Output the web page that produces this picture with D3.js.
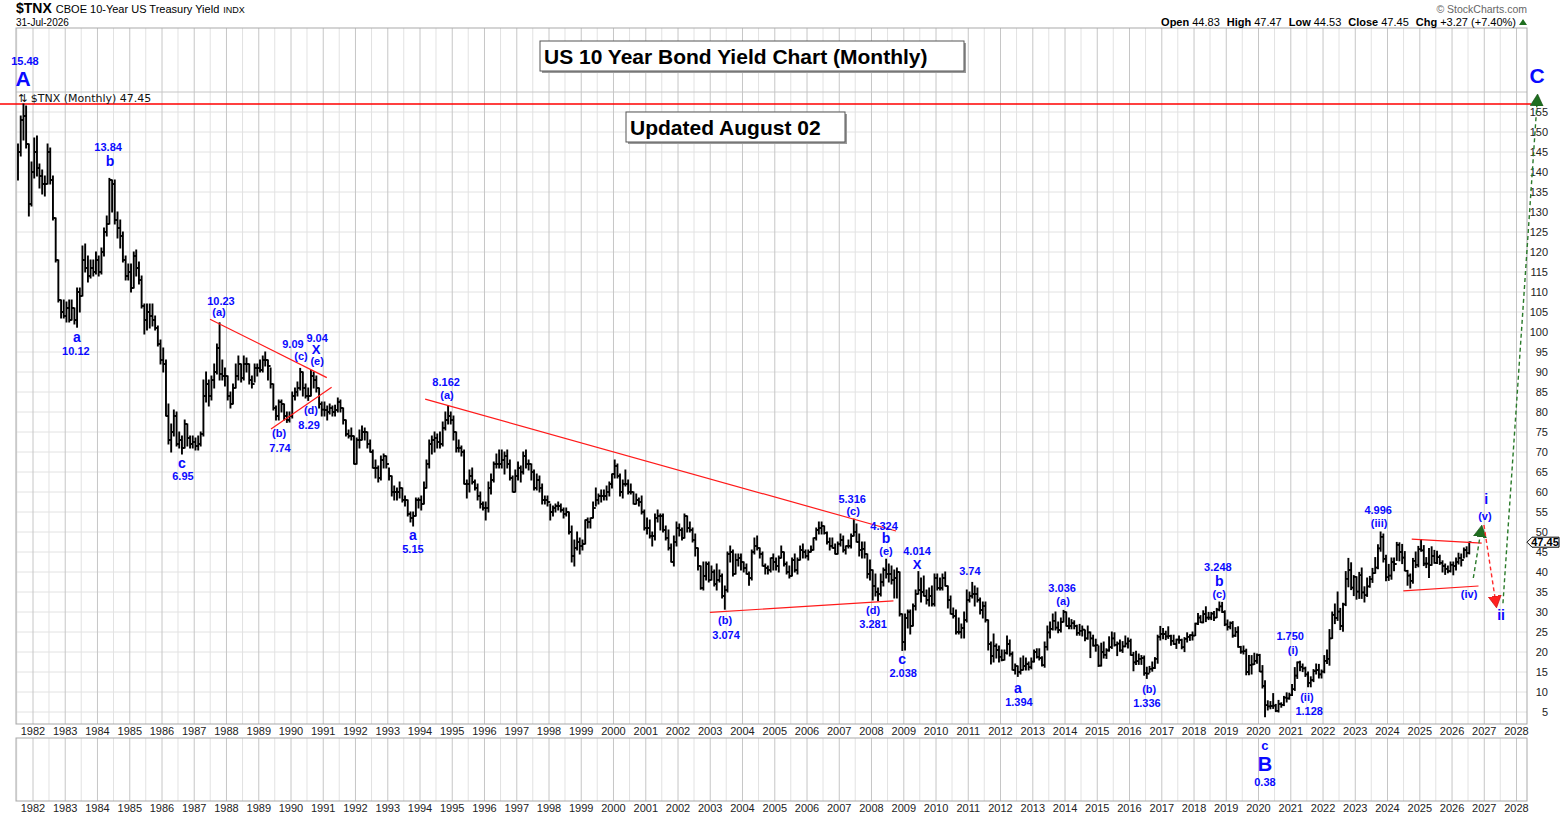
<!DOCTYPE html>
<html>
<head>
<meta charset="utf-8">
<script src="https://cdn.jsdelivr.net/npm/d3@7"></script>
<style>
  body { margin: 0; background: #fff; }
  svg { display: block; font-family: "Liberation Sans", Arial, sans-serif; }
</style>
</head>
<body>
<script>
// monthly bars of $TNX (yield x10), first bar = July 1981
const firstYear = 1981, firstMonth = 6;

const high = [
  147, 154, 157, 156.5, 147, 142.5,
  148.5, 149, 142, 140.5, 139, 147, 146, 139, 128.5, 118, 108, 108,
  107.5, 108, 108, 106, 111, 111, 121.5, 122, 119, 118, 118, 120,
  119, 121, 126, 129, 138.4, 138, 138, 130, 128, 125, 119, 117,
  117, 120, 120.5, 117.5, 114, 107, 107, 107, 107, 104, 101.5, 98,
  96, 93, 82, 77, 80.5, 80, 75, 74, 78, 77, 74, 74,
  73.5, 74, 75, 88, 90, 88, 89, 92, 97, 102.3, 93, 91,
  89, 85, 87, 92, 94, 92, 94, 93.5, 92, 89, 92, 92,
  93, 94, 95, 93, 91, 87, 81.5, 83, 83, 82, 80, 80,
  85, 86, 87.5, 90.9, 90, 87, 86, 90.4, 90, 89, 86, 82.5,
  82.5, 81.5, 82, 81.5, 81.7, 83.5, 83, 81, 78, 75.5, 76, 74,
  73.5, 75.5, 76.5, 76, 75, 73, 70.5, 68, 66.5, 69, 69.5, 69,
  66, 64, 61.5, 61, 62.5, 61, 59, 58, 55, 55, 58.5, 58.5,
  59, 62.5, 68, 73, 74, 75, 74.5, 75, 77.5, 80, 81.6, 80,
  79, 75, 73, 71.5, 70.5, 63, 65.5, 66, 63, 62, 60, 57.5,
  57.5, 62.5, 64.5, 67.5, 69.5, 70.5, 70.5, 70, 70.5, 68, 64, 65.5,
  67.5, 66.5, 70, 70.5, 68, 67, 65.5, 64.5, 64, 62, 59, 59,
  57, 56.5, 57, 57.5, 57, 56, 56, 55, 51.5, 48, 50, 48.5,
  48, 53, 53.5, 53.5, 57.5, 61, 59.5, 60.5, 60.5, 61.5, 62.5, 64.5,
  68, 67, 64.5, 63, 65.5, 63, 62, 60, 59.5, 58.5, 59, 55.5,
  53.5, 53, 50, 54.5, 55.5, 54.5, 54.5, 51.5, 50.5, 47, 49, 52.5,
  52, 51, 54.5, 54, 52.5, 51, 49.5, 46, 41.5, 42.5, 42.5, 42.5,
  41.5, 40.5, 42, 40.5, 39.5, 36.5, 45, 46.5, 45.5, 44.5, 44.5, 44.5,
  42.5, 42, 40, 45.5, 48.5, 49, 46, 45, 42, 41.5, 43.5, 44.5,
  43.5, 44, 46.5, 45, 42.5, 41.5, 43.5, 44.5, 43.5, 46.5, 47, 45.5,
  45.5, 46.5, 48.5, 51, 52.5, 52.5, 51.5, 50, 48.5, 48.5, 47, 47.5,
  49.5, 49, 46.5, 48, 49.5, 53.2, 52, 49.5, 47.5, 47.5, 44.5, 43,
  40.5, 39.5, 36, 39.5, 41, 43.2, 42, 41.5, 40.5, 41, 40, 29.5,
  29.5, 30.5, 30.5, 32, 35.5, 40.1, 38.5, 39, 35.5, 36, 36.5, 39.5,
  39.5, 38.5, 39.5, 40, 36.5, 34, 31, 30.5, 28.5, 27, 30, 35.5,
  35, 37.4, 36.5, 36, 33.5, 32.5, 32.5, 28, 22.5, 24.5, 22, 21.5,
  20.5, 20.5, 24, 23, 20, 17, 16.5, 18.5, 19, 18.5, 17.5, 18.5,
  20.5, 20.8, 20.8, 18.8, 22.5, 26.5, 27.5, 29.5, 30, 27.5, 28.5, 30.4,
  30, 28.5, 28.1, 27.8, 26.7, 26.9, 26.5, 25.5, 26.5, 25, 24.2, 23.2,
  21.5, 22.2, 22.5, 20.8, 23.8, 25, 24.8, 22.5, 23, 22.6, 24, 23.5,
  23.2, 19.9, 20.2, 19.5, 19.1, 19, 16.2, 16.4, 17.5, 18.6, 24.2, 26.4,
  25.9, 25.2, 26.3, 24.2, 24.2, 23.2, 24, 23.2, 23.6, 24.8, 24.3, 25,
  27.2, 29.6, 29.1, 30.3, 31.3, 29.9, 29.9, 30.1, 30.9, 32.5, 32.4, 30.3,
  28, 27.5, 27.6, 26.1, 26.3, 21.4, 21.5, 20.7, 19.1, 19.1, 19.7, 19.5,
  19.4, 16.6, 12.8, 7.8, 7.6, 9.6, 6.9, 7.9, 7.3, 8.9, 9.8, 9.7,
  11.9, 16.1, 17.5, 17.7, 17, 16.2, 15, 13.8, 15.6, 17, 16.9, 15.5,
  19.1, 20.5, 25.6, 30, 32, 35, 30.9, 32.2, 40.1, 43.4, 42.3, 39.1,
  38.8, 39.9, 41, 36.3, 38.5, 38.9, 40.9, 43.6, 46.8, 50, 49.5, 44.2,
  41.9, 43.5, 43.5, 47.4, 47.3, 46.9, 45.1, 40.4, 39.5, 43.4, 45, 46.4,
  48.1, 46.6, 43.6, 45.9, 46.3, 45.4, 45.2, 44.2, 42.8, 42, 41.5, 42.5,
  42.5, 43.5, 44.7, 44.5, 46, 46.3, 47.47
];

const low = [
  138, 144, 148, 146, 129, 131.5,
  138.5, 139, 136, 134.5, 134, 137, 137, 128, 117.5, 107.5, 103.5, 103.5,
  102.5, 102.5, 103, 102, 101.2, 105, 109, 115, 112.5, 113.5, 114, 114.5,
  114, 114.5, 119, 124, 127, 130, 127, 123.5, 121, 117.5, 113, 113,
  110, 111, 114, 112, 106, 99.5, 100.5, 101, 101.5, 100.5, 96.5, 92,
  90, 79, 72, 70, 74, 71.5, 71, 69.5, 71, 71.5, 71, 71,
  70.5, 70.5, 71.5, 74, 82.5, 81.5, 83, 86, 89.5, 88, 88, 86.5,
  83, 81, 82, 86, 88, 87.5, 88, 90, 87, 86, 87.5, 89,
  90, 90, 91.5, 88, 86, 80.5, 78, 78, 80, 78, 77.4, 77.5,
  78.5, 83, 84, 85.5, 84, 83.5, 82.9, 84, 86, 85, 81, 79,
  79, 78, 79.5, 79, 79, 80, 80, 77, 74, 73.5, 73, 67,
  67, 71, 73, 73, 71, 70, 66, 63.5, 62.5, 63, 66, 66,
  63, 59, 58, 58, 58.5, 57.5, 56.5, 54, 52.5, 51.5, 54, 56,
  55.5, 57, 61, 66, 69.5, 70, 71, 71, 71.5, 75.5, 77, 77,
  73, 70, 70, 69, 62, 58.5, 60, 62, 60.5, 58, 56, 55.5,
  53, 55, 59.5, 62.5, 66, 66, 66, 64.5, 66, 63, 60, 60,
  63, 62.5, 64.5, 66, 65.5, 63, 60.5, 60.5, 60, 57, 57, 56.5,
  53, 54, 55, 55.5, 55, 53.5, 54, 49.5, 42.5, 41.5, 45.5, 44.5,
  45.5, 47, 51, 51, 53.5, 56.5, 57, 57.5, 58, 58, 59, 61,
  63.5, 63.5, 59, 58.5, 61.5, 59.5, 59.5, 57, 57, 56.5, 54.5, 50.5,
  49.5, 48.5, 46.5, 48, 52.5, 50.5, 50, 48, 45.5, 42.5, 41.5, 46.5,
  49, 48, 48.5, 50, 50, 47.5, 44, 40.5, 35.7, 35.5, 38, 37.5,
  38, 36.5, 35.5, 37.5, 33.5, 30.7, 35, 42.5, 39, 39.5, 41.5, 40.5,
  40, 39.5, 36.7, 38, 44.5, 45.5, 43.5, 41.5, 39.5, 39.5, 40, 40.5,
  40.5, 40, 43.5, 41.5, 39.5, 38.5, 39, 40, 39.5, 43, 43.5, 43.5,
  43, 45, 45.5, 48, 49.5, 49.5, 49.5, 47, 45.5, 46, 44.5, 44.5,
  46.5, 45, 44.5, 46, 46, 49, 47.5, 44, 43.5, 43.5, 38.5, 38,
  33, 34, 32.8, 34, 36.5, 38.5, 37.5, 37, 33.5, 33.5, 29, 20.4,
  20.5, 26, 24.5, 26.5, 30.5, 34.5, 32.5, 34, 32, 31.5, 31.5, 31.5,
  35.5, 35.5, 35.5, 36.5, 31, 29.5, 28.5, 24.5, 24.5, 23.5, 23.5, 27.5,
  32.5, 33.5, 31.5, 32.5, 29.5, 28.5, 27.5, 20.5, 17, 17.5, 18.5, 17.5,
  17.8, 18, 19.5, 19, 15.5, 14.5, 13.9, 14.5, 15.5, 15.5, 15.5, 15.8,
  17.5, 18.5, 18, 16.5, 16.2, 20.5, 23.5, 25.5, 25.5, 24.8, 25, 27.5,
  26.5, 25.8, 25.8, 25.8, 24.2, 24.2, 24, 22.8, 23.2, 18.6, 21.5, 20.2,
  16.4, 16.5, 18.5, 18.4, 20.2, 20.9, 21.5, 19.1, 20.2, 19.9, 21.3, 21,
  19.2, 15.3, 16.9, 16.9, 16.9, 14.2, 13.4, 14.9, 15.2, 15.9, 17.2, 23,
  23.3, 23.1, 23.4, 21.7, 21.9, 20.9, 22.2, 20.8, 20.1, 22.5, 22.9, 23,
  24.1, 26.9, 27.4, 27.3, 27.6, 28.1, 28.1, 27.9, 28.6, 30.3, 29.9, 26.6,
  25.5, 25.8, 23.7, 23.9, 21.2, 19.7, 19.5, 14.3, 14.3, 14.5, 16.9, 17.2,
  15.1, 11, 3.8, 5.5, 5.8, 5.9, 5.1, 5, 6.2, 6.6, 7.5, 8.2,
  9.1, 10.4, 13.4, 15.3, 15.1, 13.9, 11.3, 11.3, 12.6, 14.5, 13.5, 13.5,
  14.8, 17.1, 16.7, 23.4, 27.1, 27.9, 25.6, 25.2, 31.6, 36.3, 35.6, 34.1,
  33.2, 33.4, 33.4, 32.5, 33.9, 36.2, 37.4, 39.7, 40.8, 45.2, 42.5, 37.8,
  37.9, 38.2, 40.3, 42.9, 42.8, 42.1, 40.3, 36.7, 36, 37.2, 41.1, 41.3,
  45.2, 41.6, 41.1, 38.6, 41.7, 42.2, 42.1, 41.9, 40, 39.4, 39.8, 40,
  39.3, 40.5, 42, 41.5, 43.5, 43.8, 44.53
];

const close = [
  145, 153, 154, 147, 132, 140,
  145, 141, 139, 137, 137, 145, 138, 128.5, 118, 108, 105, 104,
  106, 103, 106, 103, 110, 109, 118, 116, 114, 116, 115, 118,
  115, 120, 125, 127, 138, 137, 128, 126, 124, 118, 114, 115,
  111, 119, 116, 113, 106.5, 103, 105, 104, 103, 101, 97, 93,
  92, 79, 73, 75, 79, 72, 73, 71, 77, 73.5, 72, 72.5,
  71.5, 72, 74.5, 84, 87, 84, 88, 90, 96, 89.5, 89, 89,
  84, 82, 86, 89, 92, 88.5, 92, 92, 88, 87, 91, 91,
  90.5, 93, 93, 91.5, 87, 81, 79, 82.5, 82, 79, 78, 79,
  84, 85, 86, 90, 86, 84, 84, 89, 88, 86, 82, 80.6,
  80.5, 80, 81, 80, 80.5, 82.5, 81, 78, 74.5, 74, 74, 67,
  73, 73, 75, 75, 72, 70, 66, 66, 63.5, 68, 69, 67,
  64, 60, 60, 60, 61, 58, 58, 54.5, 53.5, 54, 58, 58,
  57, 61, 67, 72, 73, 73.5, 72.5, 72, 76, 78, 79, 78,
  75, 71, 71, 70, 62, 62, 64, 62.5, 61, 59, 57, 56,
  56, 61, 63, 67, 67, 67, 68, 69, 67, 63.5, 60, 64,
  66, 65, 69, 67, 67, 65, 61, 63, 61, 58, 58, 57.5,
  55, 56, 56.5, 56.5, 55.5, 54.5, 55, 50, 44, 46, 47.5, 46.5,
  47, 53, 52.5, 53.5, 56, 58, 59, 59, 59, 60, 62, 64.5,
  66.5, 64, 60, 62, 62, 60, 60, 57, 58, 57.5, 55, 51,
  51, 49, 49, 53.5, 54, 54, 50.5, 48.5, 46, 42.5, 47.5, 51,
  50.5, 48.5, 54, 51, 50.5, 48, 46, 41.5, 36, 39, 42, 38,
  40, 37, 38, 39, 34, 35.5, 44.5, 45, 39.5, 43, 43.5, 42.5,
  41, 39.5, 38.5, 45, 46.5, 46, 44.5, 41.5, 41, 40.5, 43.5, 42.5,
  41.5, 43.5, 45, 42, 40, 39, 43, 40.5, 43, 45.5, 45, 44,
  45, 45.5, 48.5, 50.5, 51, 51.5, 49.8, 47.5, 46.5, 46, 44.5, 47,
  48, 45.5, 46.5, 46.5, 49, 50, 47.5, 45.5, 45.8, 44.5, 39.5, 40.5,
  36.5, 35, 34.5, 37.5, 40.5, 39.5, 39.5, 38, 38.5, 40, 29.5, 22.5,
  28.5, 30, 26.5, 31.5, 34.5, 35.5, 35, 34, 33, 34, 32, 38.5,
  36, 36, 38.5, 36.5, 33, 29.5, 29, 25, 25, 26, 28, 33,
  34, 34.5, 34.5, 33, 30.5, 31.5, 28, 22, 19, 21.5, 20.5, 18.8,
  18, 19.8, 22, 19.5, 15.5, 16.5, 15, 15.5, 16.5, 17, 16.2, 17.6,
  20, 18.8, 18.5, 16.7, 21.3, 24.9, 25.8, 27.8, 26.1, 25.5, 27.5, 30,
  26.5, 26.5, 27.2, 26.5, 24.8, 25.3, 25.6, 23.4, 24.9, 23.4, 21.6, 21.7,
  16.6, 20, 19.3, 20.4, 21.2, 23.4, 21.8, 22.1, 20.4, 21.4, 22.1, 22.7,
  19.2, 17.4, 17.7, 18.3, 18.5, 14.7, 14.6, 15.8, 16, 18.3, 23.8, 24.5,
  24.5, 23.9, 24, 22.8, 22, 23.1, 23, 21.2, 23.3, 23.8, 24.2, 24.1,
  27.1, 28.6, 27.4, 29.5, 28.6, 28.6, 29.6, 28.6, 30.6, 31.4, 30, 26.9,
  26.3, 27.2, 24.1, 25, 21.3, 20.1, 20.2, 15, 16.7, 16.9, 17.8, 19.2,
  15.1, 11.5, 6.7, 6.4, 6.5, 6.6, 5.3, 7, 6.8, 8.6, 8.4, 9.2,
  10.7, 14.1, 17.4, 16.3, 15.9, 14.4, 12.3, 13, 15.2, 15.5, 14.4, 15.1,
  17.8, 18.3, 23.4, 29.3, 28.5, 30.1, 26.5, 31.9, 38.3, 40.5, 36.1, 38.8,
  35.1, 39.2, 34.9, 34.2, 36.4, 38.2, 39.7, 41.1, 45.9, 48.8, 43.3, 38.7,
  39.1, 42.5, 42, 46.8, 45, 43.6, 40.3, 39.1, 37.8, 42.8, 41.8, 45.7,
  45.4, 42.1, 42.1, 41.7, 44, 42.3, 43.7, 42.3, 41.5, 40.8, 40.2, 41.8,
  41.5, 42.5, 43.5, 43, 45.5, 44.8, 47.45
];

const yearTicks = d3.range(1982, 2029);
const halfYears = d3.range(1981, 2028);
const priceTicks = d3.range(5, 160, 5);

// wave labels: text, decimal year, value, font size
const waveLabels = [
  ["15.48", 1981.75, 167.75, 11], ["A", 1981.69, 163.5, 21],
  ["13.84", 1984.33, 146.25, 11], ["b", 1984.39, 142.75, 14],
  ["a", 1983.36, 98.75, 14], ["10.12", 1983.33, 95.25, 11],
  ["c", 1986.62, 67.25, 14], ["6.95", 1986.65, 64, 11],
  ["10.23", 1987.83, 107.75, 11], ["(a)", 1987.77, 105, 11],
  ["9.09", 1990.06, 97, 11], ["(c)", 1990.31, 94, 11],
  ["9.04", 1990.81, 98.5, 11], ["X", 1990.78, 95.75, 13], ["(e)", 1990.81, 92.75, 11],
  ["(d)", 1990.62, 80.5, 11], ["8.29", 1990.56, 76.75, 11],
  ["(b)", 1989.63, 74.75, 11], ["7.74", 1989.66, 71, 11],
  ["a", 1993.78, 49.25, 14], ["5.15", 1993.78, 45.75, 11],
  ["8.162", 1994.81, 87.5, 11], ["(a)", 1994.84, 84.25, 11],
  ["(b)", 2003.46, 28, 11], ["3.074", 2003.49, 24.25, 11],
  ["5.316", 2007.40, 58.25, 11], ["(c)", 2007.43, 55.25, 11],
  ["4.324", 2008.39, 51.5, 11], ["b", 2008.45, 48.5, 14], ["(e)", 2008.45, 45.25, 11],
  ["4.014", 2009.41, 45.25, 11], ["X", 2009.41, 42, 13],
  ["(d)", 2008.05, 30.5, 11], ["3.281", 2008.05, 27, 11],
  ["c", 2008.95, 18.25, 14], ["2.038", 2008.98, 14.75, 11],
  ["3.74", 2011.05, 40.25, 11],
  ["a", 2012.54, 11, 14], ["1.394", 2012.57, 7.5, 11],
  ["3.036", 2013.91, 36, 11], ["(a)", 2013.94, 32.75, 11],
  ["(b)", 2016.61, 10.75, 11], ["1.336", 2016.54, 7.25, 11],
  ["3.248", 2018.74, 41.25, 11], ["b", 2018.78, 37.75, 14], ["(c)", 2018.78, 34.5, 11],
  ["1.750", 2020.98, 24, 11], ["(i)", 2021.07, 20.5, 11],
  ["(ii)", 2021.5, 8.75, 11], ["1.128", 2021.57, 5.25, 11],
  ["c", 2020.2, -3.33, 13], ["B", 2020.2, -7.95, 20], ["0.38", 2020.2, -12.4, 11],
  ["4.996", 2023.71, 55.5, 11], ["(iii)", 2023.74, 52.25, 11],
  ["(iv)", 2026.53, 34.5, 11],
  ["i", 2027.06, 58.25, 14], ["(v)", 2027.02, 54, 11],
  ["ii", 2027.52, 29.25, 14],
  ["C", 2028.64, 164.25, 21]
];

// red trend lines: [year1, value1, year2, value2]
const trendLines = [
  [1987.49, 103.2, 1991.11, 88.6], [1989.38, 75.75, 1991.26, 86.2],
  [1994.16, 83.2, 2008.76, 50.25], [2002.99, 29.9, 2008.68, 32.8],
  [2024.75, 48.2, 2026.92, 47.2], [2024.49, 35.3, 2026.82, 36.5]
];
const peakLine = 157;

// projected path arrows
const arrows = [
  { from: [2026.66, 38.5], to: [2026.87, 49], color: "#2a7a2a", id: "g" },
  { from: [2026.99, 51.75], to: [2027.33, 33.75], color: "#ff2a2a", id: "r" },
  { from: [2027.58, 32.2], to: [2028.63, 156.75], color: "#2a7a2a", id: "g" }
];

const quote = { open: "44.83", high: "47.47", low: "44.53", close: "47.45", chg: "+3.27 (+7.40%)" };

const W = 1565, H = 817;
const frameL = 16, frameR = 1527, frameT = 28, frameB = 724;
const lowT = 738, lowB = 801;

const svg = d3.select("body").append("svg")
  .attr("xmlns", "http://www.w3.org/2000/svg")
  .attr("width", W).attr("height", H);

const x = d3.scaleTime()
  .domain([new Date(1982, 0, 1), new Date(2028, 0, 1)])
  .range([33, 1516.5]);
const y = d3.scaleLinear().domain([0, 160]).range([732, 92]);

const dec = t => {
  const yr = Math.floor(t);
  const a = new Date(yr, 0, 1), b = new Date(yr + 1, 0, 1);
  return new Date(+a + (t - yr) * (b - a));
};

// grid
const grid = svg.append("g");
function vGrid(y1, y2) {
  grid.append("g").selectAll("line").data(halfYears.filter(d => x(new Date(d, 6, 1)) > frameL)).join("line")
    .attr("x1", d => x(new Date(d, 6, 1))).attr("x2", d => x(new Date(d, 6, 1)))
    .attr("y1", y1).attr("y2", y2)
    .attr("stroke", "#e2e2e2");
  grid.append("g").selectAll("line").data(yearTicks).join("line")
    .attr("x1", d => x(new Date(d, 0, 1))).attr("x2", d => x(new Date(d, 0, 1)))
    .attr("y1", y1).attr("y2", y2)
    .attr("stroke", "#c6c6c6");
}
grid.append("g").selectAll("line").data(priceTicks).join("line")
  .attr("x1", frameL).attr("x2", frameR)
  .attr("y1", d => y(d)).attr("y2", d => y(d))
  .attr("stroke", "#e2e2e2");
vGrid(frameT, frameB);
vGrid(lowT, lowB);
grid.append("line").attr("x1", frameL).attr("x2", frameR)
  .attr("y1", y(160)).attr("y2", y(160)).attr("stroke", "#c6c6c6");
grid.append("rect").attr("x", frameL).attr("y", frameT)
  .attr("width", frameR - frameL).attr("height", frameB - frameT)
  .attr("fill", "none").attr("stroke", "#a9a9a9");
grid.append("rect").attr("x", frameL).attr("y", lowT)
  .attr("width", frameR - frameL).attr("height", lowB - lowT)
  .attr("fill", "none").attr("stroke", "#a9a9a9");

// axis labels
const axisFont = 11;
svg.append("g").selectAll("text").data(priceTicks).join("text")
  .attr("x", 1548).attr("y", d => y(d) + 4)
  .attr("text-anchor", "end").attr("font-size", axisFont).attr("fill", "#222")
  .text(d => d);
[735, 812].forEach(by => {
  svg.append("g").selectAll("text").data(yearTicks).join("text")
    .attr("x", d => x(new Date(d, 0, 1))).attr("y", by)
    .attr("text-anchor", "middle").attr("font-size", axisFont).attr("fill", "#222")
    .text(d => d);
});

// peak line
svg.append("line").attr("x1", 0).attr("x2", 1531)
  .attr("y1", y(peakLine)).attr("y2", y(peakLine))
  .attr("stroke", "#ff0000").attr("stroke-width", 1.3);

// legend
svg.append("text").attr("x", 18).attr("y", 102).attr("font-size", 11)
  .attr("font-family", "DejaVu Sans, sans-serif").attr("fill", "#111")
  .text("\u21C5 $TNX (Monthly) 47.45");

// OHLC bars
const bars = high.map((h, i) => ({
  date: new Date(firstYear, firstMonth + i, 15),
  h, l: low[i], c: close[i], o: i ? close[i - 1] : null
}));
const gb = svg.append("g").attr("stroke", "#000");
gb.append("g").selectAll("line").data(bars).join("line")
  .attr("x1", d => x(d.date)).attr("x2", d => x(d.date))
  .attr("y1", d => y(d.h) - 0.5).attr("y2", d => y(d.l) + 0.5)
  .attr("stroke-width", 1.9);
gb.append("g").selectAll("line").data(bars.filter(d => d.o !== null)).join("line")
  .attr("x1", d => x(d.date) - 2.2).attr("x2", d => x(d.date))
  .attr("y1", d => y(d.o)).attr("y2", d => y(d.o)).attr("stroke-width", 1.6);
gb.append("g").selectAll("line").data(bars).join("line")
  .attr("x1", d => x(d.date)).attr("x2", d => x(d.date) + 2.2)
  .attr("y1", d => y(d.c)).attr("y2", d => y(d.c)).attr("stroke-width", 1.6);

// trend lines
svg.append("g").selectAll("line").data(trendLines).join("line")
  .attr("x1", d => x(dec(d[0]))).attr("y1", d => y(d[1]))
  .attr("x2", d => x(dec(d[2]))).attr("y2", d => y(d[3]))
  .attr("stroke", "#ff1a1a").attr("stroke-width", 1.2);

// arrows
const defs = svg.append("defs");
[["g", "#1f6e1f", "#0e4a0e"], ["r", "#ff2020", "#c00000"]].forEach(([id, f, s]) => {
  defs.append("marker").attr("id", "m" + id)
    .attr("viewBox", "0 -7 13 14").attr("refX", 1).attr("refY", 0)
    .attr("markerUnits", "userSpaceOnUse").attr("markerWidth", 13).attr("markerHeight", 14)
    .attr("orient", "auto")
    .append("path").attr("d", "M0,-6.5L12,0L0,6.5Z").attr("fill", f).attr("stroke", s).attr("stroke-width", 0.6);
});
svg.append("g").selectAll("line").data(arrows).join("line")
  .attr("x1", d => x(dec(d.from[0]))).attr("y1", d => y(d.from[1]))
  .attr("x2", d => x(dec(d.to[0]))).attr("y2", d => y(d.to[1]))
  .attr("stroke", d => d.color).attr("stroke-width", 1.4)
  .attr("stroke-dasharray", "4,3")
  .attr("marker-end", d => `url(#m${d.id})`);

// wave labels
svg.append("g").selectAll("text").data(waveLabels).join("text")
  .attr("x", d => x(dec(d[1]))).attr("y", d => y(d[2]))
  .attr("dy", "0.36em").attr("text-anchor", "middle")
  .attr("font-size", d => d[3]).attr("font-weight", "bold").attr("fill", "#0a0aff")
  .text(d => d[0]);

// title boxes
function titleBox(bx, by, bw, bh, txt) {
  svg.append("rect").attr("x", bx + 2).attr("y", by + 2).attr("width", bw).attr("height", bh).attr("fill", "#9a9a9a");
  svg.append("rect").attr("x", bx).attr("y", by).attr("width", bw).attr("height", bh)
    .attr("fill", "#fff").attr("stroke", "#555");
  svg.append("text").attr("x", bx + 4).attr("y", by + 23).attr("font-size", 21)
    .attr("font-weight", "bold").attr("fill", "#000").text(txt);
}
titleBox(540, 41, 424, 30, "US 10 Year Bond Yield Chart (Monthly)");
titleBox(626, 112, 219, 30, "Updated August 02");

// price marker
const py = y(+quote.close);
svg.append("path")
  .attr("d", `M${frameR},${py}L${frameR + 5},${py - 5}L1559,${py - 5}L1559,${py + 5}L${frameR + 5},${py + 5}Z`)
  .attr("fill", "#fff").attr("stroke", "#000");
svg.append("text").attr("x", 1545).attr("y", py + 4).attr("text-anchor", "middle")
  .attr("font-size", 11).attr("font-weight", "bold").text(quote.close);

// header
const h1 = svg.append("text").attr("x", 16).attr("y", 13).attr("fill", "#000");
h1.append("tspan").attr("font-size", 14).attr("font-weight", "bold").text("$TNX");
h1.append("tspan").attr("font-size", 11).attr("dx", 4).text("CBOE 10-Year US Treasury Yield");
h1.append("tspan").attr("font-size", 9).attr("dx", 4).text("INDX");
svg.append("text").attr("x", 16).attr("y", 26).attr("font-size", 10).text("31-Jul-2026");
svg.append("text").attr("x", 1527).attr("y", 13).attr("text-anchor", "end")
  .attr("font-size", 10.5).attr("fill", "#666").text("\u00A9 StockCharts.com");
const h2 = svg.append("text").attr("x", 1516).attr("y", 26).attr("text-anchor", "end")
  .attr("font-size", 11).attr("fill", "#000");
[["Open", quote.open], ["High", quote.high], ["Low", quote.low], ["Close", quote.close], ["Chg", quote.chg]]
  .forEach(([k, v], i) => {
    h2.append("tspan").attr("font-weight", "bold").attr("dx", i ? 7 : 0).text(k);
    h2.append("tspan").attr("dx", 3).text(v);
  });
svg.append("path").attr("d", "M1519,25L1523,19L1527,25Z").attr("fill", "#1f6e1f");
</script>
</body>
</html>
